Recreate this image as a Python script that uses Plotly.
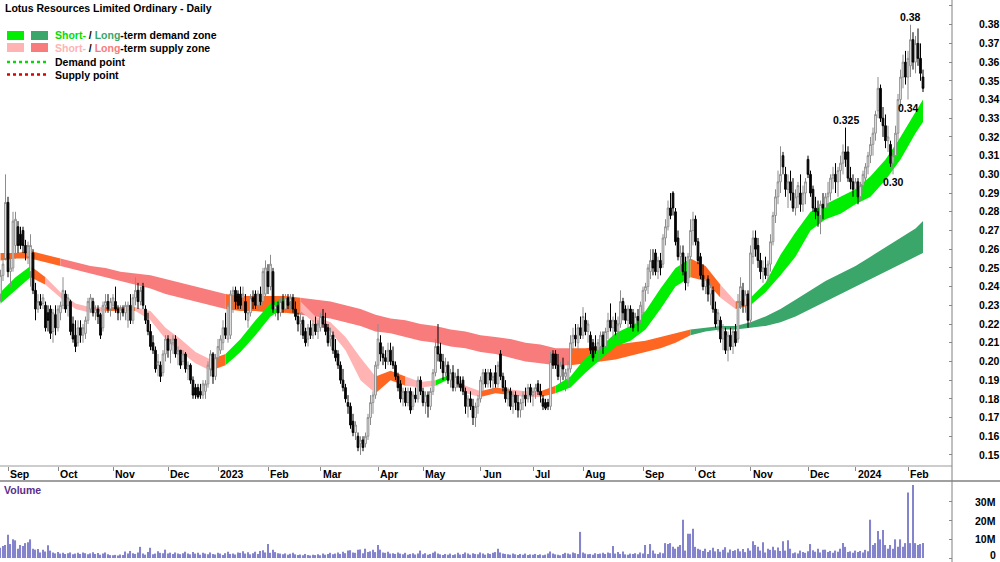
import plotly.graph_objects as go

# ---------------- data (prices in thousandths of a dollar) ----------------
O = [236,246,255,285,248,250,262,272,268,270,
     262,256,248,258,238,228,232,231,230,226,
     228,216,225,218,226,230,236,230,232,220,
     214,210,218,214,215,222,228,232,226,228,
     225,218,230,232,228,230,232,228,226,228,
     226,222,230,222,234,238,232,240,228,222,
     216,210,206,198,198,194,204,212,206,210,
     212,204,206,200,204,196,198,190,186,186,
     184,182,184,188,196,204,192,202,206,210,
     218,212,214,236,238,236,236,234,232,222,
     226,234,236,230,236,232,236,248,240,248,
     228,230,226,232,228,234,232,234,228,224,
     220,222,216,212,218,214,220,216,218,224,
     220,218,212,214,206,204,198,190,186,178,
     176,168,162,160,156,158,156,160,170,178,
     182,198,210,204,202,200,206,200,198,192,
     188,180,184,178,184,176,182,180,190,184,
     178,182,176,184,194,208,204,200,194,198,
     190,194,186,192,188,190,184,176,180,176,
     170,176,180,188,194,188,194,190,194,188,
     204,192,186,180,184,176,182,178,174,178,
     182,180,186,182,184,188,184,180,178,178,
     176,204,204,198,192,198,192,190,196,210,
     214,210,218,214,222,216,214,210,208,206,
     208,214,208,216,222,218,222,216,220,232,
     228,222,228,226,220,224,222,226,238,240,
     248,254,258,248,254,252,266,272,282,290,
     280,266,256,258,248,242,256,270,276,264,
     256,246,240,244,236,238,228,222,222,212,
     216,206,214,208,216,212,232,238,230,236,
     222,256,266,262,254,248,250,246,252,264,
     278,288,296,310,300,292,296,290,282,288,
     290,284,290,308,300,292,282,280,278,284,
     282,288,290,298,300,296,302,306,312,312,
     298,296,292,296,288,294,298,304,310,316,
     322,334,346,330,326,318,316,306,310,322,
     340,352,360,352,358,372,360,370,362,352]
H = [249,255,300,288,255,280,280,275,272,272,
     265,264,268,260,242,236,236,236,232,230,
     230,228,230,230,232,245,238,236,233,224,
     222,222,222,220,224,234,236,234,230,230,
     226,232,236,236,234,236,240,230,230,230,
     232,232,236,236,245,242,240,242,230,226,
     220,214,208,204,200,206,214,214,212,214,
     214,208,206,206,205,200,199,192,188,188,
     188,190,190,200,206,205,204,212,214,222,
     226,232,238,240,240,238,240,240,236,228,
     236,238,238,238,240,250,254,252,257,250,
     232,232,234,236,236,236,236,236,232,226,
     226,224,218,220,222,222,224,222,226,228,
     226,220,218,216,212,206,200,196,188,182,
     178,172,168,162,160,160,162,172,182,184,
     200,220,214,208,206,210,210,208,200,194,
     190,186,186,186,186,184,186,192,192,186,
     184,184,186,196,212,220,210,204,202,200,
     196,198,194,196,192,192,186,182,184,180,
     178,182,192,196,196,196,196,194,198,200,
     206,194,190,186,186,184,184,182,180,184,
     186,188,188,186,188,190,188,182,180,180,
     205,206,206,204,200,202,196,200,214,218,
     220,220,224,229,226,222,216,212,214,212,
     216,216,218,226,231,224,226,224,238,234,
     230,230,230,228,226,228,232,240,242,252,
     260,260,260,256,258,268,276,286,290,291,
     282,270,262,262,256,258,276,280,278,266,
     258,252,248,246,242,240,232,228,224,220,
     218,216,218,218,220,236,245,242,238,238,
     262,270,270,266,258,254,256,254,268,280,
     292,302,315,312,304,300,302,298,292,296,
     300,294,298,310,302,294,288,286,286,290,
     290,296,300,304,306,304,310,316,325,315,
     304,300,298,298,296,302,306,312,320,325,
     334,352,348,336,332,326,318,312,326,343,
     356,364,366,366,380,376,374,378,370,356]
L = [232,243,254,245,240,248,255,258,260,258,
     254,252,240,236,222,226,228,228,216,216,
     212,210,214,216,222,228,226,224,214,210,
     205,208,210,210,212,220,226,224,222,220,
     212,216,226,226,224,228,226,222,222,224,
     222,218,220,220,230,228,230,228,220,214,
     206,204,194,192,189,192,200,202,199,204,
     202,198,196,198,194,190,188,180,180,180,
     180,180,180,186,192,188,190,200,204,206,
     212,210,212,226,228,228,228,228,222,218,
     224,228,228,228,230,230,234,236,238,226,
     224,222,224,226,226,228,228,226,222,216,
     214,212,208,208,212,212,214,212,216,218,
     214,208,208,204,200,196,188,184,178,172,
     164,160,158,152,150,152,154,158,166,172,
     180,196,200,198,196,198,198,196,190,184,
     178,176,176,176,172,174,178,178,182,176,
     172,170,174,182,192,200,196,190,192,188,
     186,184,184,186,184,182,172,170,174,166,
     165,172,178,184,186,186,186,184,186,186,
     190,184,178,176,174,172,174,170,170,174,
     176,178,178,176,180,182,178,174,174,174,
     174,196,196,190,188,190,184,186,194,204,
     208,206,212,212,214,210,204,200,204,200,
     206,204,206,212,216,212,214,212,218,222,
     220,218,218,216,214,216,220,224,232,236,
     244,246,246,244,246,250,262,270,276,278,
     262,254,248,246,238,240,254,262,262,252,
     244,238,236,232,230,226,218,216,210,206,
     204,200,206,204,208,210,228,226,226,218,
     220,252,256,250,244,242,244,242,248,262,
     274,284,290,300,288,282,286,280,278,282,
     280,280,284,298,288,280,276,272,268,276,
     276,282,286,292,290,288,296,300,304,296,
     292,288,286,284,286,290,296,300,306,310,
     318,330,328,320,314,312,304,300,306,318,
     336,346,348,340,352,356,354,358,350,344]
C = [246,252,285,248,250,275,276,262,262,262,
     258,262,262,238,228,232,230,234,218,222,
     215,226,218,228,230,238,228,234,216,212,
     208,218,214,218,222,232,234,226,228,224,
     214,230,232,228,232,234,228,226,228,226,
     230,230,222,234,238,232,238,230,222,216,
     208,206,196,200,192,204,212,206,210,212,
     204,206,198,204,196,198,190,182,182,181,
     182,188,188,198,204,192,202,208,212,218,
     214,230,236,238,232,230,230,236,226,226,
     234,232,230,236,232,248,250,240,252,228,
     230,226,232,228,234,230,234,228,224,220,
     222,214,210,218,214,220,216,220,224,220,
     216,210,214,206,202,198,190,186,180,176,
     166,162,166,154,158,154,160,170,178,182,
     198,212,204,202,200,206,200,198,192,186,
     180,184,178,184,174,182,180,190,184,178,
     182,176,184,194,208,204,200,194,198,190,
     194,186,192,188,186,184,176,180,176,170,
     176,180,190,194,188,194,190,192,188,198,
     192,186,180,184,176,182,178,174,178,182,
     180,186,182,184,186,184,182,176,175,176,
     200,198,198,192,198,196,194,196,210,214,
     212,218,214,224,216,220,206,202,206,210,
     214,208,216,222,218,222,216,220,232,226,
     222,228,220,218,224,222,230,238,240,250,
     254,250,248,254,250,266,272,282,278,282,
     264,256,258,248,242,256,270,276,264,254,
     246,240,244,236,240,228,220,226,212,218,
     206,214,208,216,210,232,240,230,236,222,
     258,266,260,254,248,250,246,252,264,278,
     288,296,300,304,292,296,290,282,288,294,
     284,290,296,300,290,282,280,278,284,282,
     288,290,298,300,296,302,306,312,308,298,
     296,292,296,288,294,300,304,310,316,322,
     332,346,330,326,318,320,306,310,322,340,
     352,360,352,362,372,360,370,362,354,346]
# volume, millions of shares
VOL = [5.5,6.5,7.0,12.5,7.5,10.0,9.5,5.0,7.0,6.5,
       8.0,8.5,10.0,5.0,4.5,4.8,3.0,4.5,3.5,6.8,
       4.0,3.0,2.5,3.2,2.4,2.8,2.2,2.6,3.0,2.0,
       2.4,2.8,2.2,3.0,2.6,2.0,2.5,3.1,2.2,2.7,
       1.8,2.4,3.0,2.1,1.6,1.5,1.7,1.4,1.9,1.6,
       3.5,2.4,3.8,2.6,2.2,3.0,6.0,2.5,1.8,3.2,
       5.5,2.0,2.4,3.6,2.8,2.6,4.5,2.4,2.9,2.2,
       3.0,2.4,2.1,2.6,3.4,2.5,2.0,3.2,2.4,2.8,
       1.8,2.9,2.4,2.0,3.0,2.2,1.9,2.8,2.4,1.7,
       2.6,3.4,2.2,2.5,1.9,3.0,2.8,3.6,2.4,3.1,
       2.0,2.6,3.4,2.2,3.8,4.2,3.0,7.5,2.8,4.5,
       3.2,2.6,2.4,2.0,2.5,1.8,2.3,2.8,2.0,1.6,
       1.9,1.5,2.2,1.7,1.4,1.8,1.6,2.0,1.5,2.4,
       1.8,2.2,2.8,2.0,2.4,3.0,2.2,3.4,2.6,4.0,
       4.2,3.0,2.8,4.4,4.6,2.6,5.0,3.2,3.6,4.5,
       3.2,7.0,4.5,3.0,2.8,3.4,2.4,2.6,2.2,3.0,
       2.4,2.0,2.8,1.8,2.2,2.6,1.9,2.4,4.0,2.0,
       2.6,1.8,2.2,2.8,3.5,2.4,2.0,1.6,2.2,1.8,
       2.4,1.6,2.0,2.8,1.9,2.2,3.0,2.4,1.8,2.6,
       2.2,2.0,3.0,2.4,1.8,2.6,2.2,2.8,3.2,5.0,
       3.0,2.4,2.2,2.0,1.8,2.4,2.0,1.6,2.2,1.8,
       2.4,1.6,2.0,1.8,2.2,1.6,2.0,1.5,1.8,2.4,
       3.5,2.4,2.0,1.8,1.5,2.2,2.8,2.4,2.0,3.0,
       2.6,2.2,14.0,3.0,2.4,2.0,2.2,1.8,2.6,2.2,
       2.4,2.8,2.2,3.0,2.6,6.5,2.4,3.2,2.2,3.5,
       2.0,1.8,2.4,2.2,2.6,2.0,3.0,2.4,7.0,2.2,
       7.5,4.0,2.4,2.2,3.0,2.6,8.0,7.5,8.0,6.0,
       5.0,6.0,7.0,20.5,4.0,13.0,13.0,15.7,6.0,5.0,
       4.5,3.8,5.0,3.2,4.2,5.5,3.6,4.8,3.4,4.4,
       5.8,3.0,4.6,3.8,4.2,5.0,3.6,4.8,3.2,5.2,
       4.0,9.0,7.0,6.0,4.0,8.5,3.0,5.0,4.4,6.0,
       4.2,5.6,3.8,9.0,4.0,9.5,5.0,2.6,3.0,2.4,
       4.0,3.2,2.8,3.6,7.5,4.2,3.4,5.0,3.0,4.4,
       4.5,3.2,3.8,2.8,4.0,3.4,5.0,8.0,6.0,3.2,
       3.6,2.8,4.0,3.2,3.8,3.0,4.4,3.6,20.5,7.0,
       8.0,14.5,10.0,15.0,7.0,5.0,7.0,5.0,10.0,6.0,
       10.0,6.0,8.0,35.0,8.0,39.0,8.0,7.0,7.5,8.0]

# zone bands sampled at these bar indices
BAND_IDX = list(range(0, 367, 6)) + [369]
ST_TOP = [.237,.245,.251,.245,.237,.231,.229,.229,.229,.229,.227,.218,.212,.205,.201,.204,
          .212,.222,.231,.234,.232,.224,.221,.213,.202,.192,.195,.192,.189,.190,.193,.187,
          .184,.186,.185,.184,.184,.187,.192,.202,.208,.215,.219,.227,.239,.250,.255,.251,
          .241,.232,.234,.242,.257,.269,.280,.284,.288,.292,.299,.308,.320,.333,.340]
ST_BOT = [.231,.238,.245,.241,.234,.228,.226,.227,.227,.227,.222,.212,.205,.199,.195,.198,
          .205,.214,.224,.229,.227,.220,.216,.206,.190,.183,.190,.187,.186,.187,.191,.183,
          .181,.183,.182,.181,.181,.183,.186,.194,.201,.208,.211,.217,.228,.240,.245,.243,
          .234,.228,.230,.237,.246,.256,.270,.276,.279,.284,.288,.297,.308,.322,.328]
LT_TOP = [.258,.258,.259,.257,.255,.253,.251,.250,.248,.247,.246,.244,.242,.240,.238,.236,
          .235,.235,.235,.235,.234,.233,.232,.230,.228,.225,.223,.222,.220,.219,.217,.216,
          .214,.213,.212,.210,.209,.207,.207,.207,.208,.209,.210,.211,.213,.215,.217,.218,
          .219,.219,.221,.224,.228,.233,.238,.243,.247,.251,.256,.261,.266,.271,.275]
LT_BOT = [.254,.255,.255,.253,.251,.249,.247,.245,.243,.241,.239,.236,.234,.232,.230,.228,
          .227,.227,.226,.226,.225,.224,.223,.221,.219,.216,.215,.213,.211,.210,.208,.207,
          .205,.204,.202,.200,.199,.198,.198,.199,.200,.201,.203,.205,.207,.210,.214,.216,
          .217,.217,.218,.219,.221,.224,.228,.232,.236,.240,.244,.248,.252,.256,.258]
# zone state per band segment: D = demand, S = supply, N = neutral
ST_STATE = "DDNSSSSNNSSSSSNDDDDNSSSSSNNSSDSSNNSSNDDDDDDDDDNNSNDDDDDDDDDDDD"
LT_STATE = "NNNNSSSSSSSSSSSNNNNNSSSSSSSSSSSSSSSSSSNNNNNNNNDDDDDDDDDDDDDDDD"

MONTH_IDX = [3,23,45,67,87,107,128,151,169,192,213,233,257,278,300,323,342,363]
MONTH_LBL = ["Sep","Oct","Nov","Dec","2023","Feb","Mar","Apr","May","Jun",
             "Jul","Aug","Sep","Oct","Nov","Dec","2024","Feb"]
PRICE_TICKS = [0.15,0.16,0.17,0.18,0.19,0.20,0.21,0.22,0.23,0.24,0.25,0.26,
               0.27,0.28,0.29,0.30,0.31,0.32,0.33,0.34,0.35,0.36,0.37,0.38,0.39]
VOL_TICKS = [0, 10, 20, 30]
VOL_TICK_LBL = ["0", "10M", "20M", "30M"]
PEAK_IDX = [338, 364]
PEAK_VAL = [0.325, 0.38]
PEAK_LBL = ["0.325", "0.38"]
TROUGH_IDX = [357, 363]
TROUGH_VAL = [0.30, 0.34]
TROUGH_LBL = ["0.30", "0.34"]

# ---------------- styling ----------------
W, Hpx = 1000, 562
FONT = "Liberation Sans, Arial, sans-serif"
C_SHORT = {"D": "#00ee00", "S": "#ffb3b3", "N": "#ff6622"}
C_LONG = {"D": "#3aa66a", "S": "#f87c7c", "N": "#ff6622"}
XR = [-0.2, 380.6]
YR = [0.1441, 0.3932]
VR = [-2.1, 41.2]
PRICE_BOTTOM = 1 - 466 / Hpx
VOL_TOP = 1 - 481 / Hpx
XD = [0, 0.952]


def px(x):
    return x / W


def py(y):
    return 1 - y / Hpx


fig = go.Figure()


def add_band(top, bot, states, cmap):
    k = 0
    n = len(states)
    while k < n:
        s = states[k]
        e = k
        while e + 1 < n and states[e + 1] == s:
            e += 1
        a, b = k, e + 1
        xs = BAND_IDX[a:b + 1] + BAND_IDX[a:b + 1][::-1]
        ys = top[a:b + 1] + bot[a:b + 1][::-1]
        fig.add_trace(go.Scatter(x=xs, y=ys, fill="toself", fillcolor=cmap[s],
                                 mode="lines", line=dict(width=0, color=cmap[s]),
                                 hoverinfo="skip", showlegend=False,
                                 xaxis="x", yaxis="y"))
        k = e + 1


add_band(LT_TOP, LT_BOT, LT_STATE, C_LONG)
add_band(ST_TOP, ST_BOT, ST_STATE, C_SHORT)

idx = list(range(len(C)))
fig.add_trace(go.Candlestick(
    x=idx, open=[v / 1000 for v in O], high=[v / 1000 for v in H],
    low=[v / 1000 for v in L], close=[v / 1000 for v in C],
    increasing=dict(line=dict(color="#8c8c8c", width=1), fillcolor="white"),
    decreasing=dict(line=dict(color="#000000", width=1), fillcolor="#000000"),
    whiskerwidth=0, showlegend=False, hoverinfo="skip",
    xaxis="x3", yaxis="y3"))

fig.add_trace(go.Bar(x=idx, y=VOL, width=0.45, marker=dict(color="#8484cc", line=dict(width=0)),
                     showlegend=False, hoverinfo="skip", xaxis="x2", yaxis="y2"))

ann = []
ann.append(dict(x=px(3), y=py(8), xref="paper", yref="paper", xanchor="left", yanchor="middle",
                text="<b>Lotus Resources Limited Ordinary - Daily</b>", showarrow=False,
                font=dict(size=10.5, color="#000000")))
legend_rows = [
    (35.5, "<b><span style='color:#00dd00'>Short-</span> / <span style='color:#3aa66a'>Long</span>-term demand zone</b>"),
    (47.5, "<b><span style='color:#ffb3b3'>Short-</span> / <span style='color:#f87c7c'>Long</span>-term supply zone</b>"),
    (62, "<b>Demand point</b>"),
    (74.5, "<b>Supply point</b>"),
]
for yy, t in legend_rows:
    ann.append(dict(x=px(53), y=py(yy), xref="paper", yref="paper", xanchor="left", yanchor="middle",
                    text=t, showarrow=False, font=dict(size=10.5, color="#000000")))
ann.append(dict(x=px(2), y=py(490), xref="paper", yref="paper", xanchor="left", yanchor="middle",
                text="<b>Volume</b>", showarrow=False, font=dict(size=10.5, color="#5a2d8c")))
for i, lbl in zip(MONTH_IDX, MONTH_LBL):
    ann.append(dict(x=i, y=py(474), xref="x", yref="paper", xanchor="left", yanchor="middle",
                    xshift=0, text="<b>%s</b>" % lbl, showarrow=False,
                    font=dict(size=10.5, color="#000000")))
for i, v, t in zip(PEAK_IDX, PEAK_VAL, PEAK_LBL):
    ann.append(dict(x=i, y=v, xref="x", yref="y", xanchor="center", yanchor="bottom",
                    text="<b>%s</b>" % t, showarrow=False, font=dict(size=10.5, color="#000000")))
for i, v, t in zip(TROUGH_IDX, TROUGH_VAL, TROUGH_LBL):
    ann.append(dict(x=i, y=v, xref="x", yref="y", xanchor="center", yanchor="top",
                    text="<b>%s</b>" % t, showarrow=False, font=dict(size=10.5, color="#000000")))
for v, t in zip(VOL_TICKS, VOL_TICK_LBL):
    ann.append(dict(x=px(998), y=v, xref="paper", yref="y2", xanchor="right", yanchor="middle",
                    yshift=(3 if v == 0 else 0),
                    text="<b>%s</b>" % t, showarrow=False, font=dict(size=10.5, color="#000000")))

shapes = []
# legend swatches
for x0, x1, y0, y1, col in [(7, 24, 31, 40, "#00ee00"), (31, 48, 31, 40, "#3aa66a"),
                            (7, 24, 43, 52, "#ffb3b3"), (31, 48, 43, 52, "#f87c7c")]:
    shapes.append(dict(type="rect", xref="paper", yref="paper", x0=px(x0), x1=px(x1),
                       y0=py(y1), y1=py(y0), fillcolor=col, line=dict(width=0)))
shapes.append(dict(type="line", xref="paper", yref="paper", x0=px(7), x1=px(47), y0=py(62), y1=py(62),
                   line=dict(color="#00dd00", width=2.5, dash="dot")))
shapes.append(dict(type="line", xref="paper", yref="paper", x0=px(7), x1=px(47), y0=py(74.5), y1=py(74.5),
                   line=dict(color="#dd0000", width=2.5, dash="dot")))
# frame lines
shapes.append(dict(type="line", xref="paper", yref="paper", x0=0, x1=0.952, y0=PRICE_BOTTOM, y1=PRICE_BOTTOM,
                   line=dict(color="#9a9a9a", width=1)))
shapes.append(dict(type="line", xref="paper", yref="paper", x0=0, x1=1, y0=VOL_TOP, y1=VOL_TOP,
                   line=dict(color="#a0a0a0", width=2)))
shapes.append(dict(type="line", xref="paper", yref="paper", x0=0.952, x1=0.952, y0=0, y1=1,
                   line=dict(color="#808080", width=1)))

hidden = dict(showgrid=False, zeroline=False, showline=False, showticklabels=False, ticks="")

fig.update_layout(
    width=W, height=Hpx, margin=dict(l=0, r=0, t=0, b=0),
    paper_bgcolor="white", plot_bgcolor="white",
    font=dict(family=FONT, size=10.5, color="#000000"),
    showlegend=False, hovermode=False, boxgap=0.05,
    xaxis=dict(domain=XD, range=XR, anchor="y", tickvals=MONTH_IDX, ticks="outside", ticklen=4,
               tickcolor="#888888", showticklabels=False, showgrid=False, zeroline=False,
               showline=False, rangeslider=dict(visible=False)),
    yaxis=dict(domain=[PRICE_BOTTOM, 1], range=YR, anchor="x", side="right",
               tickvals=PRICE_TICKS, tickformat=".2f", ticks="inside", ticklen=3,
               tickcolor="#888888", showgrid=False, zeroline=False, showline=False,
               tickfont=dict(size=10.5, color="#000000", weight="bold"),
               ticklabelstandoff=26),
    xaxis3=dict(overlaying="x", range=XR, anchor="y3", rangeslider=dict(visible=False), **hidden),
    yaxis3=dict(overlaying="y", range=YR, anchor="x3", **hidden),
    xaxis2=dict(domain=XD, range=XR, anchor="y2", **hidden),
    yaxis2=dict(domain=[0, VOL_TOP], range=VR, anchor="x2", side="right", tickvals=VOL_TICKS,
                ticks="inside", ticklen=3, tickcolor="#888888", showticklabels=False,
                showgrid=False, zeroline=False, showline=False),
    annotations=ann, shapes=shapes,
)

fig.write_html("out.html", config={"displayModeBar": False})
